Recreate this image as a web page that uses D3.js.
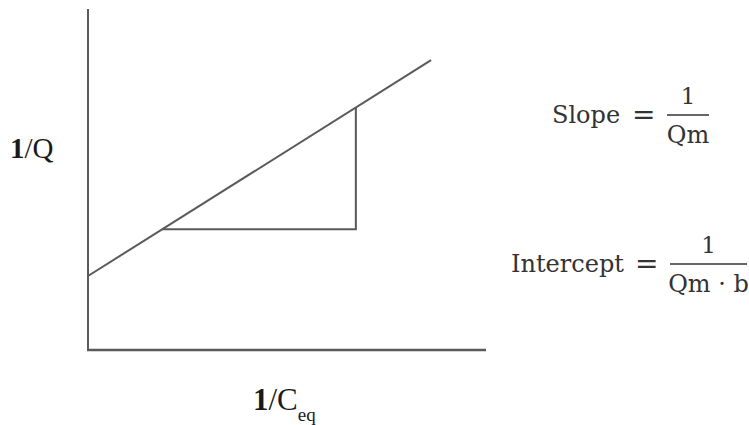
<!DOCTYPE html>
<html>
<head>
<meta charset="utf-8">
<script src="https://cdn.jsdelivr.net/npm/d3@7"></script>
<style>
  body { margin: 0; background: #fff; }
</style>
</head>
<body>
<script>
const width = 749;
const height = 425;

// Linearised Langmuir plot (schematic, arbitrary units)
const axisX = [0, 10];
const axisY = [0, 10];
const fitX = [0, 8.62];
const fitY = [2.17, 8.5];
const triX = [1.86, 6.73, 6.73];
const triY = [3.54, 3.54, 7.11];

const ink = "#5a5a5a";

const svg = d3.select("body").append("svg")
    .attr("width", width)
    .attr("height", height)
    .style("background", "#fff");

const x = d3.scaleLinear().domain(axisX).range([88, 486]);
const y = d3.scaleLinear().domain(axisY).range([350, 9]);

// axes (no ticks)
svg.append("line")
    .attr("x1", x(0)).attr("y1", y(0))
    .attr("x2", x(0)).attr("y2", y(10))
    .attr("stroke", ink).attr("stroke-width", 2);
svg.append("line")
    .attr("x1", x(0) - 1).attr("y1", y(0))
    .attr("x2", x(10)).attr("y2", y(0))
    .attr("stroke", ink).attr("stroke-width", 2.5);

// fitted line
const line = d3.line().x(d => x(d[0])).y(d => y(d[1]));
svg.append("path")
    .datum(d3.zip(fitX, fitY))
    .attr("d", line)
    .attr("fill", "none")
    .attr("stroke", ink)
    .attr("stroke-width", 2);

// slope triangle
svg.append("path")
    .datum(d3.zip(triX, triY))
    .attr("d", line)
    .attr("fill", "none")
    .attr("stroke", ink)
    .attr("stroke-width", 2);

// axis labels
const serif = "'Liberation Serif', 'Times New Roman', serif";
const yl = svg.append("text")
    .attr("x", 10).attr("y", 158)
    .attr("font-family", serif).attr("font-size", 29)
    .attr("fill", "#1a1a1a");
yl.append("tspan").attr("font-weight", "bold").text("1");
yl.append("tspan").text("/Q");

const xl = svg.append("text")
    .attr("x", 253).attr("y", 410)
    .attr("font-family", serif).attr("font-size", 31)
    .attr("fill", "#1a1a1a");
xl.append("tspan").attr("font-weight", "bold").text("1");
xl.append("tspan").text("/C");
xl.append("tspan").attr("font-size", 19).attr("dy", 11).text("eq");

// formulas
const fserif = "'DejaVu Serif', serif";
const fcol = "#333";

function formula(label, labelX, barX1, barX2, eqY, num, den) {
    svg.append("text")
        .attr("x", labelX).attr("y", eqY + 8)
        .attr("font-family", fserif).attr("font-size", 24)
        .attr("fill", fcol).text(label);
    svg.append("text")
        .attr("x", barX1 - 35).attr("y", eqY + 9)
        .attr("font-family", fserif).attr("font-size", 28)
        .attr("fill", fcol).text("=");
    svg.append("line")
        .attr("x1", barX1).attr("x2", barX2)
        .attr("y1", eqY).attr("y2", eqY)
        .attr("stroke", fcol).attr("stroke-width", 1.6);
    svg.append("text")
        .attr("x", (barX1 + barX2) / 2).attr("y", eqY - 11)
        .attr("text-anchor", "middle")
        .attr("font-family", fserif).attr("font-size", 23)
        .attr("fill", fcol).text(num);
    svg.append("text")
        .attr("x", (barX1 + barX2) / 2).attr("y", eqY + 28)
        .attr("text-anchor", "middle")
        .attr("font-family", fserif).attr("font-size", 24)
        .attr("fill", fcol).text(den);
}

formula("Slope", 552, 667, 709, 115, "1", "Qm");
formula("Intercept", 511, 670, 747, 264, "1", "Qm \u00b7 b");
</script>
</body>
</html>
